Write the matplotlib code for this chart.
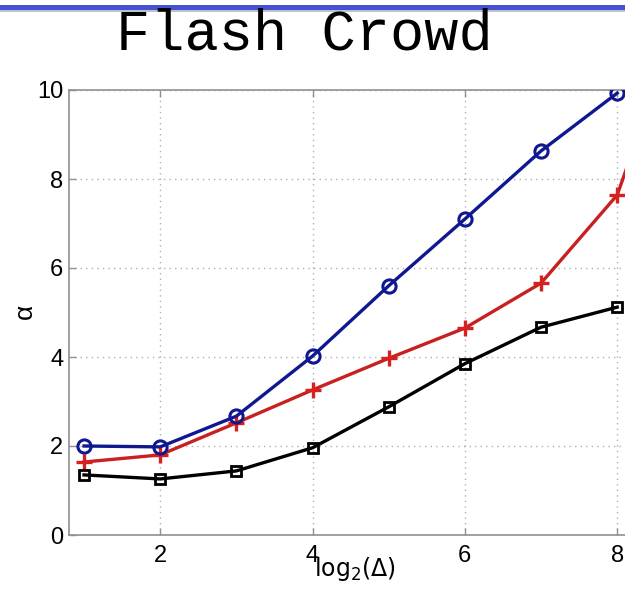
import matplotlib
matplotlib.use("Agg")
import matplotlib.pyplot as plt
from matplotlib.patches import Rectangle

# Series data: alpha versus log2(Delta)
x_vals = [1, 2, 3, 4, 5, 6, 7, 8]
x_red = [1, 2, 3, 4, 5, 6, 7, 8, 9]
alpha_blue = [2.00, 1.98, 2.67, 4.02, 5.60, 7.10, 8.63, 9.93]
alpha_red = [1.64, 1.80, 2.52, 3.26, 3.97, 4.65, 5.66, 7.64, 12.5]
alpha_black = [1.35, 1.26, 1.44, 1.96, 2.88, 3.85, 4.67, 5.12]

x_ticks = [2, 4, 6, 8]
y_ticks = [0, 2, 4, 6, 8, 10]

plt.rcParams["mathtext.fontset"] = "custom"
plt.rcParams["mathtext.rm"] = "Liberation Sans"
plt.rcParams["mathtext.it"] = "Liberation Sans"

W, H = 625, 592
fig = plt.figure(figsize=(W / 100, H / 100), dpi=100)

# slide header band
fig.patches.append(Rectangle((0, 1 - 12 / H), 1, 3 / H, transform=fig.transFigure,
                             facecolor="#c0c0cc", edgecolor="none", zorder=0))
fig.patches.append(Rectangle((0, 1 - 10 / H), 1, 5 / H, transform=fig.transFigure,
                             facecolor="#4650d2", edgecolor="none", zorder=1))

fig.text(304 / W, 1 - 35 / H, "Flash Crowd", family="Liberation Mono",
         fontsize=41, ha="center", va="center", color="black")

left_px, right_px = 68.8, 708.6
bottom_px, top_px = 535, 90
ax = fig.add_axes([left_px / W, (H - bottom_px) / H,
                   (right_px - left_px) / W, (bottom_px - top_px) / H])

ax.plot(x_vals, alpha_blue, color="#101890", lw=2.4, marker="o", ms=9.5,
        mfc="none", mec="#101890", mew=2.2, zorder=3)
ax.plot(x_red, alpha_red, color="#c82020", lw=2.4, marker="+", ms=11,
        mec="#d82020", mew=2.4, zorder=2)
ax.plot(x_vals, alpha_black, color="black", lw=2.4, marker="s", ms=7,
        mfc="none", mec="black", mew=2.0, zorder=2)

ax.set_xlim(0.8, 9.2)
ax.set_ylim(0, 10)
ax.set_xticks(x_ticks)
ax.set_yticks(y_ticks)
ax.grid(True, color="#b0b0b0", linestyle=(0, (1, 3)), linewidth=1.0)
for s in ax.spines.values():
    s.set_color("#909090")
    s.set_linewidth(1.2)
ax.tick_params(direction="in", length=5, width=1, color="#909090",
               top=True, right=True, labelsize=17)
ax.tick_params(axis="y", pad=4)
ax.tick_params(axis="x", pad=7)
for lab in ax.get_xticklabels() + ax.get_yticklabels():
    lab.set_family("Liberation Sans")

fig.text(25 / W, 1 - 311 / H, "\u03b1", family="Liberation Sans", fontsize=19,
         rotation=90, ha="center", va="center")
fig.text(355 / W, 1 - 569 / H, r"$\mathregular{log_2(\Delta)}$", fontsize=17,
         ha="center", va="center")

fig.savefig("out.png", dpi=100)
